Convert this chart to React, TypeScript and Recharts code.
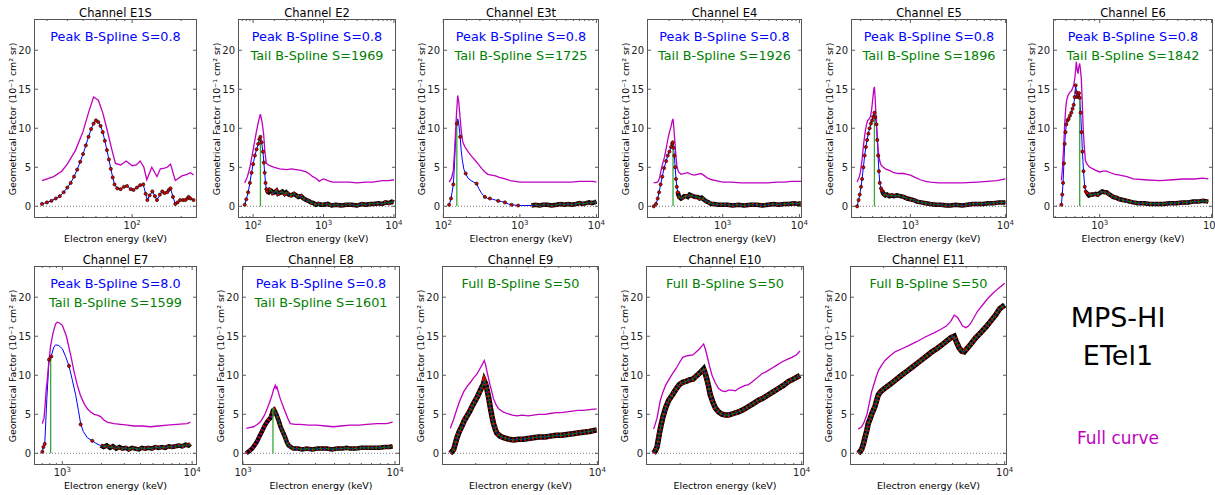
import { ComposedChart, Line, XAxis, YAxis, ReferenceLine } from 'recharts'

type Pt = [number, number]

// ---- data (energy keV, geometrical factor) ----
const E1S_FULL: Pt[] = [[28,3.3],[33,3.8],[37,4.5],[40,5.4],[45,7.2],[50,9.6],[54,12.0],[58,14.0],[62,13.6],[66,12.0],[70,9.9],[75,7.3],[79,5.5],[85,5.3],[92,5.8],[100,5.2],[106,5.3],[112,5.8],[118,5.0],[123,3.4],[132,5.0],[142,3.8],[149,4.8],[158,4.9],[164,5.0],[172,5.4],[184,3.3],[202,3.9],[217,4.1],[228,4.3],[238,4.0]]
const E1S_PEAK: Pt[] = [[28,0.3],[30,0.5],[32,0.7],[34,1.0],[36,1.3],[38,1.8],[40,2.4],[42,3.0],[44,3.8],[46,4.7],[48,5.7],[50,6.7],[52,7.8],[54,8.9],[56,9.9],[58,10.6],[60,11.0],[62,10.8],[64,10.3],[66,9.5],[68,8.4],[70,7.2],[72,6.0],[74,4.8],[76,3.7],[78,2.8],[81,2.3],[85,2.2],[89,2.5],[93,2.6],[98,2.2],[102,2.1],[107,2.4],[112,2.7],[117,2.8],[121,1.6],[124,0.8],[128,1.4],[133,1.9],[138,1.3],[142,0.8],[148,1.5],[153,1.9],[158,1.7],[164,1.8],[168,2.1],[172,2.3],[178,1.2],[184,0.3],[190,0.5],[197,0.8],[205,0.8],[212,0.8],[218,1.0],[222,1.2],[228,1.0],[238,0.8]]

const E2_FULL: Pt[] = [[76,3.0],[83,3.8],[90,5.0],[100,7.2],[111,9.5],[120,11.0],[127,11.8],[134,10.8],[141,9.3],[147,7.0],[154,5.5],[172,5.2],[200,5.0],[238,4.8],[300,4.7],[350,4.8],[409,4.7],[480,4.6],[566,4.4],[640,4.1],[703,3.8],[780,3.6],[873,3.2],[940,3.4],[1000,3.5],[1150,3.3],[1350,3.1],[1800,3.1],[2300,3.1],[3000,3.0],[3980,3.1],[5000,3.1],[6850,3.3],[8500,3.3],[10000,3.4]]
const E2_PEAK: Pt[] = [[76,0.2],[80,0.9],[85,1.8],[90,3.0],[95,4.3],[100,5.4],[106,6.5],[112,7.3],[118,8.0],[123,8.6],[127,8.9],[132,8.2],[138,7.0],[142,5.6],[146,4.3],[150,3.0],[154,2.2],[158,1.9]]
const E2_BAND: Pt[] = [[158,1.9],[165,1.8],[172,2.1],[181,2.0],[190,1.7],[202,1.8],[215,2.0],[226,1.6],[238,1.7],[260,1.9],[280,1.6],[295,1.8],[320,1.5],[348,1.4],[380,1.6],[409,1.4],[440,1.2],[480,1.3],[520,1.0],[566,0.8],[610,0.7],[665,0.5],[720,0.4],[781,0.2],[850,0.3],[920,0.2],[1000,0.2],[1150,0.3],[1300,0.1],[1500,0.2],[1800,0.1],[2100,0.2],[2500,0.2],[3000,0.1],[3500,0.3],[4000,0.2],[4600,0.3],[5200,0.3],[6000,0.4],[6800,0.3],[7600,0.5],[8500,0.4],[9300,0.6],[10000,0.5]]

const E3_FULL: Pt[] = [[119,3.1],[128,3.6],[135,4.6],[140,7.0],[144,9.3],[149,12.0],[154,14.2],[159,13.4],[165,11.5],[172,9.5],[180,8.2],[192,7.6],[210,7.0],[234,6.4],[260,5.9],[286,5.4],[320,4.8],[349,4.4],[380,4.1],[427,4.0],[480,3.9],[540,3.7],[638,3.5],[750,3.3],[870,3.2],[1000,3.1],[1300,3.1],[1730,3.1],[2300,3.1],[3000,3.1],[3800,3.1],[4720,3.1],[6000,3.2],[7800,3.2],[9000,3.2],[10000,3.1]]
const E3_PEAK: Pt[] = [[119,0.2],[122,0.5],[126,1.0],[130,1.8],[135,2.8],[139,4.8],[143,7.5],[147,9.6],[150,10.6],[154,11.2],[158,10.8],[162,9.9],[166,8.9],[171,7.2],[177,5.9],[186,4.7],[196,4.2],[210,3.6],[230,3.3],[250,3.1],[272,2.9],[290,2.3],[310,1.8],[330,1.4],[349,1.2],[380,1.0],[406,1.0],[440,0.9],[480,0.8],[520,0.7],[577,0.6],[638,0.5],[705,0.3],[780,0.2],[861,0.15],[950,0.1],[1050,0.1],[1200,0.1],[1420,0.1]]
const E3_DOTS: Pt[] = [[119,0.2],[126,1.0],[135,2.8],[150,10.6],[166,8.9],[196,4.2],[272,2.9],[349,1.2],[406,1.0],[520,0.7],[638,0.5],[780,0.2],[950,0.1]]
const E3_BAND: Pt[] = [[1420,0.1],[1600,0.2],[1800,0.1],[2000,0.2],[2300,0.2],[2600,0.1],[3000,0.2],[3400,0.3],[3800,0.2],[4300,0.3],[4800,0.2],[5400,0.3],[6000,0.4],[6600,0.3],[7300,0.4],[8000,0.5],[8700,0.4],[9400,0.5],[10000,0.6]]

const E4_FULL: Pt[] = [[126,3.0],[142,3.1],[150,3.6],[157,4.6],[165,5.5],[174,6.3],[183,7.4],[192,8.5],[202,9.5],[212,10.2],[219,10.9],[225,11.2],[230,10.2],[239,8.0],[246,6.3],[254,5.0],[265,4.4],[286,4.1],[310,4.2],[349,4.3],[390,4.1],[427,4.0],[470,4.1],[522,4.2],[580,3.9],[638,3.6],[720,3.4],[820,3.3],[1000,3.1],[1300,3.1],[1730,3.0],[2400,3.0],[3000,3.0],[3860,3.0],[5000,3.1],[6300,3.1],[7800,3.2],[9000,3.2],[10500,3.2]]
const E4_PEAK: Pt[] = [[126,0.0],[135,0.3],[142,1.0],[148,1.8],[155,2.8],[163,3.8],[172,4.9],[183,5.8],[192,6.5],[202,7.0],[212,7.6],[219,8.0],[223,8.2],[228,7.5],[234,6.5],[240,5.0],[246,3.5],[252,2.5],[259,1.8]]
const E4_BAND: Pt[] = [[259,1.8],[270,1.2],[286,1.0],[300,1.1],[315,1.3],[332,1.3],[350,1.2],[370,1.5],[386,1.4],[410,1.3],[440,1.2],[472,1.2],[500,1.0],[530,1.1],[577,0.8],[620,0.6],[660,0.5],[705,0.3],[780,0.3],[870,0.2],[1000,0.2],[1150,0.2],[1350,0.1],[1600,0.2],[1900,0.1],[2300,0.2],[2800,0.2],[3300,0.1],[3900,0.2],[4600,0.3],[5400,0.2],[6300,0.3],[7300,0.3],[8500,0.4],[9600,0.3],[10500,0.4]]

const E5_FULL: Pt[] = [[275,3.1],[290,3.8],[298,4.4],[310,6.0],[322,8.0],[334,9.5],[344,10.4],[355,11.0],[368,11.2],[380,11.5],[392,12.5],[402,13.8],[412,15.0],[418,15.3],[425,14.0],[435,11.5],[446,9.3],[460,7.0],[476,5.8],[490,5.3],[520,5.0],[545,4.8],[600,4.6],[668,4.3],[750,4.2],[851,4.2],[920,4.1],[1000,4.0],[1120,3.7],[1270,3.4],[1450,3.2],[1620,3.1],[2000,3.0],[2630,3.0],[3500,3.0],[5030,3.1],[6500,3.2],[8160,3.3],[10000,3.5]]
const E5_PEAK: Pt[] = [[275,0.0],[285,0.8],[293,1.5],[302,2.5],[310,3.5],[320,5.0],[330,6.5],[340,7.6],[350,8.5],[361,9.3],[372,10.0],[384,10.6],[395,11.0],[406,11.5],[418,12.0],[428,11.4],[439,10.5],[448,8.5],[457,6.5],[466,4.5],[476,3.0],[490,2.3],[503,2.0]]
const E5_BAND: Pt[] = [[503,2.0],[520,1.6],[545,1.4],[568,1.5],[600,1.3],[635,1.4],[668,1.3],[720,1.4],[785,1.3],[850,1.2],[923,1.0],[1000,0.9],[1080,0.8],[1175,0.6],[1300,0.5],[1450,0.4],[1620,0.3],[1850,0.2],[2100,0.2],[2400,0.1],[2630,0.1],[3000,0.2],[3500,0.1],[4000,0.2],[4500,0.3],[5030,0.3],[5800,0.3],[6600,0.4],[7500,0.4],[8600,0.5],[10000,0.5]]

const E6_FULL: Pt[] = [[454,3.3],[465,5.0],[476,7.6],[486,10.5],[496,12.5],[506,13.6],[520,14.2],[540,14.6],[560,14.8],[585,15.5],[600,16.5],[609,17.5],[618,18.5],[628,17.5],[640,17.0],[650,17.8],[662,18.3],[673,17.5],[685,16.2],[697,13.5],[710,10.2],[726,7.8],[744,5.9],[770,5.4],[814,5.0],[870,4.8],[920,4.6],[1000,4.4],[1070,4.5],[1147,4.5],[1250,4.3],[1370,4.1],[1510,4.0],[1750,3.8],[1987,3.5],[2500,3.4],[3450,3.3],[4500,3.4],[5570,3.5],[7000,3.5],[8300,3.6],[9350,3.5]]
const E6_PEAK: Pt[] = [[454,0.2],[462,1.5],[470,3.0],[478,5.5],[486,8.0],[494,9.5],[503,10.5],[515,11.0],[527,11.2],[541,11.6],[557,12.0],[571,12.5],[585,13.0],[597,14.0],[609,15.5],[620,14.6],[630,14.0],[641,14.2],[652,14.5],[662,13.9],[675,12.0],[688,9.5],[700,7.0],[716,4.5],[734,2.5],[750,1.9],[770,1.7]]
const E6_BAND: Pt[] = [[770,1.7],[800,1.4],[840,1.5],[871,1.5],[920,1.6],[960,1.5],[1000,1.7],[1050,1.9],[1100,1.8],[1147,1.8],[1200,1.6],[1260,1.4],[1316,1.2],[1400,1.1],[1500,0.9],[1618,0.8],[1750,0.7],[1987,0.5],[2200,0.4],[2500,0.4],[2800,0.3],[3200,0.3],[3700,0.3],[4200,0.4],[4800,0.4],[5500,0.5],[6200,0.5],[6850,0.6],[7600,0.6],[8400,0.7],[9350,0.6]]

const E7_FULL: Pt[] = [[702,3.8],[712,4.2],[723,4.5],[735,6.0],[750,8.0],[767,9.6],[790,12.0],[813,13.8],[850,15.5],[888,16.6],[915,16.8],[950,16.7],[1000,16.4],[1075,15.0],[1159,12.6],[1230,10.5],[1305,8.7],[1380,7.4],[1468,6.4],[1560,5.7],[1651,5.3],[1760,5.0],[1858,4.9],[1972,4.7],[2080,4.3],[2218,4.0],[2500,3.8],[2808,3.7],[3200,3.6],[3556,3.5],[4100,3.5],[4778,3.4],[5500,3.5],[6416,3.6],[7600,3.7],[9137,3.8],[9700,4.0]]
const E7_PEAK: Pt[] = [[702,0.2],[715,0.8],[732,1.2],[760,7.0],[790,12.0],[823,12.5],[860,13.6],[888,13.9],[940,13.8],[1000,13.4],[1060,12.4],[1125,11.2],[1190,9.5],[1266,7.5],[1330,5.5],[1384,3.8],[1450,2.8],[1557,2.0],[1701,1.6],[1850,1.2],[1972,1.0]]
const E7_DOTS: Pt[] = [[702,0.2],[715,0.8],[732,1.2],[790,12.0],[823,12.4],[1125,11.2],[1384,3.7],[1701,1.6]]
const E7_BAND: Pt[] = [[1972,1.0],[2080,0.8],[2200,1.0],[2330,0.7],[2450,0.9],[2600,0.6],[2750,0.8],[2900,0.6],[3080,0.7],[3250,0.5],[3450,0.7],[3650,0.6],[3880,0.5],[4100,0.7],[4350,0.6],[4600,0.7],[4900,0.6],[5200,0.8],[5500,0.7],[5850,0.8],[6200,0.7],[6600,0.9],[7000,0.8],[7450,0.9],[7900,1.0],[8400,0.9],[8900,1.1],[9400,1.0],[9700,1.2]]

const E8_FULL: Pt[] = [[1052,3.2],[1100,3.3],[1175,3.4],[1240,3.7],[1299,4.0],[1350,4.5],[1401,5.1],[1440,5.7],[1474,6.2],[1512,6.8],[1550,7.4],[1590,8.2],[1630,8.7],[1650,8.3],[1671,8.5],[1710,7.8],[1758,7.0],[1830,6.1],[1897,5.3],[1970,4.5],[2046,3.8],[2200,3.7],[2377,3.7],[2700,3.6],[3056,3.6],[3500,3.5],[3937,3.4],[4400,3.5],[5070,3.6],[5800,3.6],[6520,3.7],[7600,3.8],[8800,3.8],[9640,4.0]]
const E8_BAND: Pt[] = [[1052,0.0],[1100,0.3],[1146,0.6],[1190,1.0],[1236,1.5],[1285,2.2],[1332,2.8],[1385,3.5],[1437,4.0],[1475,4.3],[1512,4.5],[1545,5.0],[1574,5.5],[1600,5.6],[1630,5.3],[1670,4.8],[1715,4.2],[1760,3.5],[1802,3.0],[1850,2.5],[1897,2.0],[1945,1.4],[1995,1.0],[2070,0.8],[2147,0.6],[2300,0.6],[2450,0.5],[2630,0.6],[2850,0.5],[3100,0.6],[3300,0.6],[3555,0.6],[3850,0.5],[4150,0.6],[4500,0.6],[4800,0.7],[5070,0.6],[5500,0.6],[6000,0.7],[6600,0.7],[7240,0.7],[7900,0.7],[8600,0.8],[9200,0.8],[9640,0.9]]

const E9_FULL: Pt[] = [[1429,3.2],[1490,4.3],[1561,5.7],[1630,6.9],[1707,7.9],[1790,8.6],[1866,9.1],[1950,9.7],[2040,10.2],[2110,10.8],[2170,11.3],[2240,11.9],[2280,11.3],[2315,10.6],[2370,9.6],[2420,8.7],[2480,7.8],[2530,7.0],[2620,6.2],[2710,5.7],[2870,5.3],[3030,5.1],[3250,4.9],[3450,4.8],[3700,4.9],[4000,4.8],[4290,4.9],[4600,5.0],[5000,5.0],[5350,5.1],[5800,5.2],[6200,5.2],[6670,5.3],[7200,5.4],[7700,5.5],[8310,5.5],[9000,5.6],[9910,5.7]]
const E9_BAND: Pt[] = [[1429,0.0],[1460,0.2],[1494,0.5],[1525,1.2],[1561,2.0],[1610,2.8],[1669,3.5],[1720,4.2],[1783,4.8],[1840,5.3],[1906,6.0],[1970,6.6],[2040,7.2],[2100,7.8],[2170,8.5],[2210,8.8],[2240,9.3],[2280,8.9],[2315,8.3],[2370,7.2],[2420,6.0],[2475,4.8],[2530,3.8],[2590,3.1],[2640,2.6],[2760,2.2],[2890,2.0],[3100,1.8],[3300,1.7],[3520,1.8],[3760,1.8],[4000,1.9],[4290,2.0],[4600,2.1],[5000,2.1],[5350,2.2],[5800,2.3],[6200,2.3],[6670,2.4],[7200,2.5],[7700,2.6],[8310,2.7],[9000,2.8],[9910,3.0]]

const E10_FULL: Pt[] = [[1409,3.1],[1473,4.5],[1540,6.8],[1590,7.8],[1650,8.7],[1730,9.5],[1808,10.2],[1900,10.9],[1980,11.6],[2070,12.3],[2200,12.5],[2370,12.6],[2480,13.0],[2590,13.4],[2680,13.8],[2730,14.0],[2790,13.4],[2850,12.6],[2950,11.2],[3050,10.0],[3190,9.0],[3330,8.3],[3480,8.0],[3640,7.9],[3800,8.1],[3970,8.1],[4150,8.0],[4330,8.3],[4530,8.5],[4730,8.7],[4950,8.8],[5160,9.1],[5500,9.6],[5900,10.2],[6300,10.5],[6730,10.9],[7200,11.3],[7680,11.7],[8200,12.0],[8770,12.3],[9300,12.6],[9780,13.1]]
const E10_BAND: Pt[] = [[1409,0.0],[1440,0.3],[1473,0.8],[1505,2.0],[1540,3.2],[1590,4.6],[1650,5.8],[1720,6.8],[1808,7.5],[1890,8.2],[1980,8.8],[2070,9.1],[2160,9.2],[2260,9.4],[2370,9.5],[2480,9.9],[2590,10.3],[2680,10.6],[2730,10.8],[2790,10.2],[2850,9.5],[2920,8.5],[2980,7.5],[3080,6.6],[3190,5.8],[3330,5.3],[3480,5.0],[3640,4.9],[3800,4.9],[4050,5.1],[4330,5.3],[4630,5.6],[4950,6.0],[5300,6.4],[5650,6.8],[6040,7.1],[6440,7.5],[6880,7.9],[7350,8.3],[7850,8.7],[8380,9.2],[8950,9.5],[9780,10.0]]

const E11_FULL: Pt[] = [[1429,3.1],[1494,3.4],[1545,4.0],[1600,4.9],[1650,6.3],[1707,7.9],[1790,9.4],[1866,10.6],[1950,11.3],[2040,11.9],[2180,12.5],[2330,13.0],[2550,13.4],[2790,13.8],[3100,14.3],[3480,14.9],[3880,15.4],[4290,15.9],[4600,16.3],[4880,16.9],[5110,17.7],[5350,17.4],[5550,16.8],[5710,16.3],[5970,16.1],[6180,16.3],[6380,16.7],[6650,17.4],[6970,18.2],[7450,19.0],[7960,19.8],[8550,20.5],[9150,21.1],[10000,21.8]]
const E11_BAND: Pt[] = [[1429,0.0],[1460,0.2],[1494,0.5],[1530,1.2],[1561,2.0],[1600,2.9],[1630,3.8],[1670,4.4],[1707,5.0],[1745,5.5],[1783,6.0],[1825,6.8],[1866,7.5],[1910,7.8],[1950,8.0],[2080,8.5],[2230,9.0],[2380,9.5],[2540,10.0],[2720,10.5],[2910,11.0],[3110,11.5],[3330,12.0],[3560,12.5],[3800,13.0],[4050,13.4],[4290,13.8],[4580,14.3],[4880,14.8],[5110,15.0],[5280,14.2],[5460,13.5],[5650,13.1],[5840,13.0],[6100,13.5],[6380,14.0],[6800,14.8],[7300,15.5],[7800,16.2],[8350,17.0],[8850,17.7],[9340,18.5],[10000,19.0]]

const Y_TICKS = [0, 5, 10, 15, 20]
const Y_DOMAIN: [number, number] = [-1.5, 24]

const BLUE = '#0000ff'
const GREEN = '#008000'
const MAGENTA = '#bf00bf'
const FONT = '"DejaVu Sans", Verdana, sans-serif'

const BOX_H = 199
const YW = 26
const XH = 18
const MR = 14

interface Note { text: string; color: string }
interface PanelDef {
  title: string
  left: number
  top: number
  w: number
  domain: [number, number]
  ticks: number[]
  full: Pt[]
  peak?: Pt[]
  dots?: Pt[]
  band?: Pt[]
  split?: Pt
  thick?: boolean
  notes: Note[]
}

const peakNote = (s: string): Note => ({ text: `Peak B-Spline S=${s}`, color: BLUE })
const tailNote = (s: string): Note => ({ text: `Tail B-Spline S=${s}`, color: GREEN })
const fullNote: Note = { text: 'Full B-Spline S=50', color: GREEN }

const PANELS: PanelDef[] = [
  { title: 'Channel E1S', left: 34, top: 19, w: 163, domain: [25, 250], ticks: [100], full: E1S_FULL, peak: E1S_PEAK, notes: [peakNote('0.8')] },
  { title: 'Channel E2', left: 238, top: 19, w: 158, domain: [61, 10700], ticks: [100, 1000, 10000], full: E2_FULL, peak: E2_PEAK, band: E2_BAND, split: [127, 8.9], notes: [peakNote('0.8'), tailNote('1969')] },
  { title: 'Channel E3t', left: 443, top: 19, w: 156, domain: [99, 10800], ticks: [100, 1000, 10000], full: E3_FULL, peak: E3_PEAK, dots: E3_DOTS, band: E3_BAND, split: [150, 10.9], notes: [peakNote('0.8'), tailNote('1725')] },
  { title: 'Channel E4', left: 647, top: 19, w: 155, domain: [103, 10800], ticks: [1000, 10000], full: E4_FULL, peak: E4_PEAK, band: E4_BAND, split: [225, 8.2], notes: [peakNote('0.8'), tailNote('1926')] },
  { title: 'Channel E5', left: 851, top: 19, w: 156, domain: [237, 10400], ticks: [1000, 10000], full: E5_FULL, peak: E5_PEAK, band: E5_BAND, split: [418, 12.0], notes: [peakNote('0.8'), tailNote('1896')] },
  { title: 'Channel E6', left: 1053, top: 19, w: 160, domain: [382, 10300], ticks: [1000, 10000], full: E6_FULL, peak: E6_PEAK, band: E6_BAND, split: [662, 14.0], notes: [peakNote('0.8'), tailNote('1842')] },
  { title: 'Channel E7', left: 34, top: 266, w: 163, domain: [605, 10900], ticks: [1000, 10000], full: E7_FULL, peak: E7_PEAK, dots: E7_DOTS, band: E7_BAND, split: [813, 12.3], notes: [peakNote('8.0'), tailNote('1599')] },
  { title: 'Channel E8', left: 242, top: 266, w: 158, domain: [985, 10780], ticks: [1000, 10000], full: E8_FULL, band: E8_BAND, split: [1574, 5.8], notes: [peakNote('0.8'), tailNote('1601')] },
  { title: 'Channel E9', left: 442, top: 266, w: 157, domain: [1280, 10220], ticks: [10000], full: E9_FULL, band: E9_BAND, thick: true, notes: [fullNote] },
  { title: 'Channel E10', left: 646, top: 266, w: 158, domain: [1273, 10310], ticks: [10000], full: E10_FULL, band: E10_BAND, thick: true, notes: [fullNote] },
  { title: 'Channel E11', left: 850, top: 266, w: 157, domain: [1280, 10310], ticks: [10000], full: E11_FULL, band: E11_BAND, thick: true, notes: [fullNote] },
]

const toXY = (a: Pt[]) => a.map(([x, y]) => ({ x, y }))

function LogTick(props: any) {
  const { x, y, payload } = props
  const e = Math.round(Math.log10(payload.value))
  return (
    <text x={x} y={y + 11} textAnchor="middle" fontSize={10} fill="#222" fontFamily={FONT}>
      10<tspan dy={-4} fontSize={7}>{e}</tspan>
    </text>
  )
}

function Txt({ x, y, size, color = '#000', rotate = false, children }: any) {
  return (
    <div style={{
      position: 'absolute', left: x, top: y, fontSize: size, color, lineHeight: 1, whiteSpace: 'nowrap',
      transform: `translate(-50%, -50%)${rotate ? ' rotate(-90deg)' : ''}`,
    }}>{children}</div>
  )
}

const dotStyle = { r: 1.6, fill: '#e00000', stroke: '#000', strokeWidth: 0.6 }

// inward tick marks like matplotlib's classic frame
function tickSegments(p: PanelDef) {
  const [lo, hi] = p.domain
  const span = Math.log10(hi) - Math.log10(lo)
  const fx = (px: number) => Math.pow(10, (span * px) / p.w)
  const unit = (Y_DOMAIN[1] - Y_DOMAIN[0]) / BOX_H
  const segs: { key: string; seg: { x: number; y: number }[] }[] = []
  Y_TICKS.forEach(t => {
    segs.push({ key: `yl${t}`, seg: [{ x: lo, y: t }, { x: lo * fx(4), y: t }] })
    segs.push({ key: `yr${t}`, seg: [{ x: hi / fx(4), y: t }, { x: hi, y: t }] })
  })
  for (let d = Math.floor(Math.log10(lo)); d <= Math.ceil(Math.log10(hi)); d++) {
    for (let m = 1; m <= 9; m++) {
      const v = m * Math.pow(10, d)
      if (v <= lo || v >= hi) continue
      const len = (m === 1 ? 4 : 2) * unit
      segs.push({ key: `xb${v}`, seg: [{ x: v, y: Y_DOMAIN[0] }, { x: v, y: Y_DOMAIN[0] + len }] })
      segs.push({ key: `xt${v}`, seg: [{ x: v, y: Y_DOMAIN[1] - len }, { x: v, y: Y_DOMAIN[1] }] })
    }
  }
  return segs
}

function Panel({ p }: { p: PanelDef }) {
  const tail = p.band ? (p.split ? p.band.filter(d => d[0] >= p.split![0]) : p.band) : []
  const cx = p.left + p.w / 2
  const bw = p.thick ? 5.5 : 4.5
  return (
    <>
      <div style={{ position: 'absolute', left: p.left - YW, top: p.top }}>
        <ComposedChart width={p.w + YW + MR} height={BOX_H + XH} margin={{ top: 0, right: MR, bottom: 0, left: 0 }}>
          <XAxis dataKey="x" type="number" scale="log" domain={p.domain} allowDataOverflow ticks={p.ticks} interval={0}
            tick={<LogTick />} tickLine={false} axisLine={false} height={XH} tickSize={0} tickMargin={0} />
          <YAxis type="number" domain={Y_DOMAIN} allowDataOverflow ticks={Y_TICKS} interval={0} width={YW}
            tickLine={false} axisLine={false} tickSize={0} tickMargin={3}
            tick={{ fontSize: 10, fill: '#222', fontFamily: FONT }} />
          <ReferenceLine y={0} stroke="#777" strokeDasharray="1 2" />
          {tickSegments(p).map(s => (
            <ReferenceLine key={s.key} segment={s.seg} stroke="#333" strokeWidth={0.8} />
          ))}
          {p.band && <Line data={toXY(p.band)} dataKey="y" stroke="#000" strokeWidth={bw} dot={false} isAnimationActive={false} />}
          {p.band && <Line data={toXY(p.band)} dataKey="y" stroke="#e00000" strokeWidth={bw - 1} strokeDasharray="1.5 2.5" dot={false} isAnimationActive={false} />}
          {p.peak && <Line data={toXY(p.peak)} dataKey="y" stroke={BLUE} strokeWidth={1} dot={p.dots ? false : dotStyle} isAnimationActive={false} />}
          {p.dots && <Line data={toXY(p.dots)} dataKey="y" stroke="none" dot={dotStyle} isAnimationActive={false} />}
          {tail.length > 0 && <Line data={toXY(tail)} dataKey="y" stroke={GREEN} strokeWidth={1.2} dot={false} isAnimationActive={false} />}
          {p.band && <Line data={toXY(p.band)} dataKey="y" stroke={BLUE} strokeWidth={0.7} strokeDasharray="4 3" dot={false} isAnimationActive={false} />}
          {p.split && <Line data={toXY([[p.split[0], 0], p.split])} dataKey="y" stroke="#3aa63a" strokeWidth={1.3} dot={false} isAnimationActive={false} />}
          <Line data={toXY(p.full)} dataKey="y" stroke={MAGENTA} strokeWidth={1.3} dot={false} isAnimationActive={false} />
        </ComposedChart>
      </div>
      <div style={{ position: 'absolute', left: p.left, top: p.top, width: p.w, height: BOX_H, border: '1px solid #555', boxSizing: 'border-box', pointerEvents: 'none' }} />
      <Txt x={cx} y={p.top - 5} size={11.5}>{p.title}</Txt>
      {p.notes.map((n, i) => (
        <Txt key={n.text} x={cx} y={p.top + 18 + i * 18.5} size={12.8} color={n.color}>{n.text}</Txt>
      ))}
      <Txt x={cx} y={p.top + BOX_H + 21} size={9.5}>Electron energy (keV)</Txt>
      <Txt x={p.left - 21} y={p.top + BOX_H / 2} size={9.4} rotate>Geometrical Factor (10⁻¹ cm² sr)</Txt>
    </>
  )
}

export default function App() {
  return (
    <div style={{ position: 'absolute', left: 0, top: 0, width: 1215, height: 495, background: '#fff', fontFamily: FONT, overflow: 'hidden' }}>
      {PANELS.map(p => <Panel key={p.title} p={p} />)}
      <Txt x={1118} y={317} size={27}>MPS-HI</Txt>
      <Txt x={1118} y={355} size={27}>ETel1</Txt>
      <Txt x={1118} y={438} size={17} color={MAGENTA}>Full curve</Txt>
    </div>
  )
}
